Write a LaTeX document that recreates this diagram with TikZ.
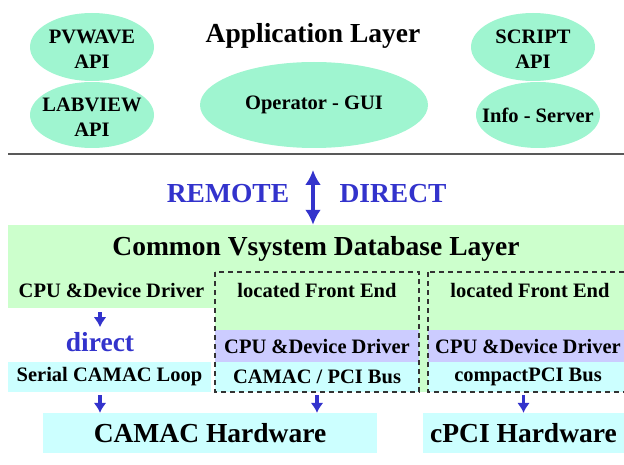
\documentclass[tikz,border=0pt]{standalone}
\usepackage{fontspec}
\setmainfont{Liberation Serif}
\usepackage{xcolor}
\usepackage{tikz}
\usetikzlibrary{shapes, arrows.meta}
\definecolor{apimint}{HTML}{9FF5D0}
\definecolor{dbgreen}{HTML}{CCFFCC}
\definecolor{drvpurple}{HTML}{CCCCFF}
\definecolor{buscyan}{HTML}{CCFFFF}
\definecolor{linkblue}{HTML}{3333CC}
\tikzstyle{api} = [ellipse, fill=apimint, inner sep=0pt]
\tikzstyle{txt} = [align=center, inner sep=0pt, font=\fontsize{20.5}{25}\selectfont\bfseries]
\tikzstyle{big} = [inner sep=0pt, font=\fontsize{27.5}{30}\selectfont\bfseries]
\tikzstyle{band} = [rectangle, inner sep=0pt, font=\fontsize{20.5}{25}\selectfont\bfseries]
\tikzstyle{frontend} = [draw=black!80, line width=1.5pt, dash pattern=on 5pt off 4pt]
\tikzstyle{flow} = [draw=linkblue, line width=3.5pt, -{Latex[length=10pt, width=13pt]}]

\begin{document}
\begin{tikzpicture}[x=1pt, y=-1pt]
  \useasboundingbox (0, 0) rectangle (624, 465);
  \clip (0, 0) rectangle (624, 465);

  % application layer
  \node[big] (applayer) at (313, 36) {Application Layer};
  \node[api, minimum width=124, minimum height=68] (pvwave) at (92, 47) {};
  \node[txt] (pvwave-txt) at (92, 49) {PVWAVE\\API};
  \node[api, minimum width=124, minimum height=66] (labview) at (92, 115) {};
  \node[txt] (labview-txt) at (92, 117) {LABVIEW\\API};
  \node[api, minimum width=228, minimum height=86] (gui) at (314, 105) {};
  \node[txt] (gui-txt) at (gui) {Operator - GUI};
  \node[api, minimum width=124, minimum height=68] (script) at (533, 47) {};
  \node[txt] (script-txt) at (533, 49) {SCRIPT\\API};
  \node[api, minimum width=124, minimum height=66] (info) at (538, 115) {};
  \node[txt] (info-txt) at (info) {Info - Server};

  \draw[line width=2pt, draw=black!65] (8, 154) -- (624, 154);

  % remote / direct access
  \node[big, text=linkblue] (remote) at (228, 194) {REMOTE};
  \node[big, text=linkblue] (direct) at (393, 194) {DIRECT};
  \coordinate (link) at (313, 170);

  % database layer and front ends
  \fill[dbgreen] (215, 272) rectangle (624, 392);
  \node[band, big, fill=dbgreen, minimum width=616, minimum height=47] (dblayer) at (316, 248.5) {Common Vsystem Database Layer};
  \node[band, fill=dbgreen, minimum width=207, minimum height=36] (leftdrv) at (111.5, 290) {CPU \&Device Driver};
  \node[txt] (loc1) at (317, 290) {located Front End};
  \node[txt] (loc2) at (530, 290) {located Front End};
  \node[band, fill=drvpurple, minimum width=204, minimum height=32] (drv1) at (317, 346) {CPU \&Device Driver};
  \node[band, fill=buscyan, minimum width=204, minimum height=30] (bus1) at (317, 377) {CAMAC / PCI Bus};
  \node[band, fill=drvpurple, minimum width=200, minimum height=32] (drv2) at (528, 346) {CPU \&Device Driver};
  \node[band, fill=buscyan, minimum width=200, minimum height=30] (bus2) at (528, 377) {compactPCI Bus};
  \draw[frontend] (215, 272) rectangle (419, 392);
  \draw[frontend] (428, 272) rectangle (640, 392);

  \node[big, text=linkblue] (directlink) at (100, 342) {direct};
  \node[band, fill=buscyan, minimum width=203, minimum height=30] (serial) at (109.5, 377) {Serial CAMAC Loop};

  % hardware
  \node[band, big, fill=buscyan, minimum width=334, minimum height=40] (camac) at (210, 433) {CAMAC Hardware};
  \node[band, big, fill=buscyan, minimum width=201, minimum height=40] (cpci) at (523.5, 433) {cPCI Hardware};

  \draw[flow, {Latex[length=15pt, width=16pt]}-{Latex[length=15pt, width=16pt]}, line width=4.5pt] (link) -- (link |- dblayer.north);
  \draw[flow, shorten <=4pt, shorten >=5pt] (leftdrv.south -| directlink.north) -- (directlink.north);
  \draw[flow, shorten <=3pt] (serial.south -| directlink.north) -- (camac.north -| directlink.north);
  \draw[flow, shorten <=3pt] (bus1.south) -- (bus1.south |- camac.north);
  \draw[flow, shorten <=3pt] (cpci.north |- bus2.south) -- (cpci.north);

\end{tikzpicture}
\end{document}
